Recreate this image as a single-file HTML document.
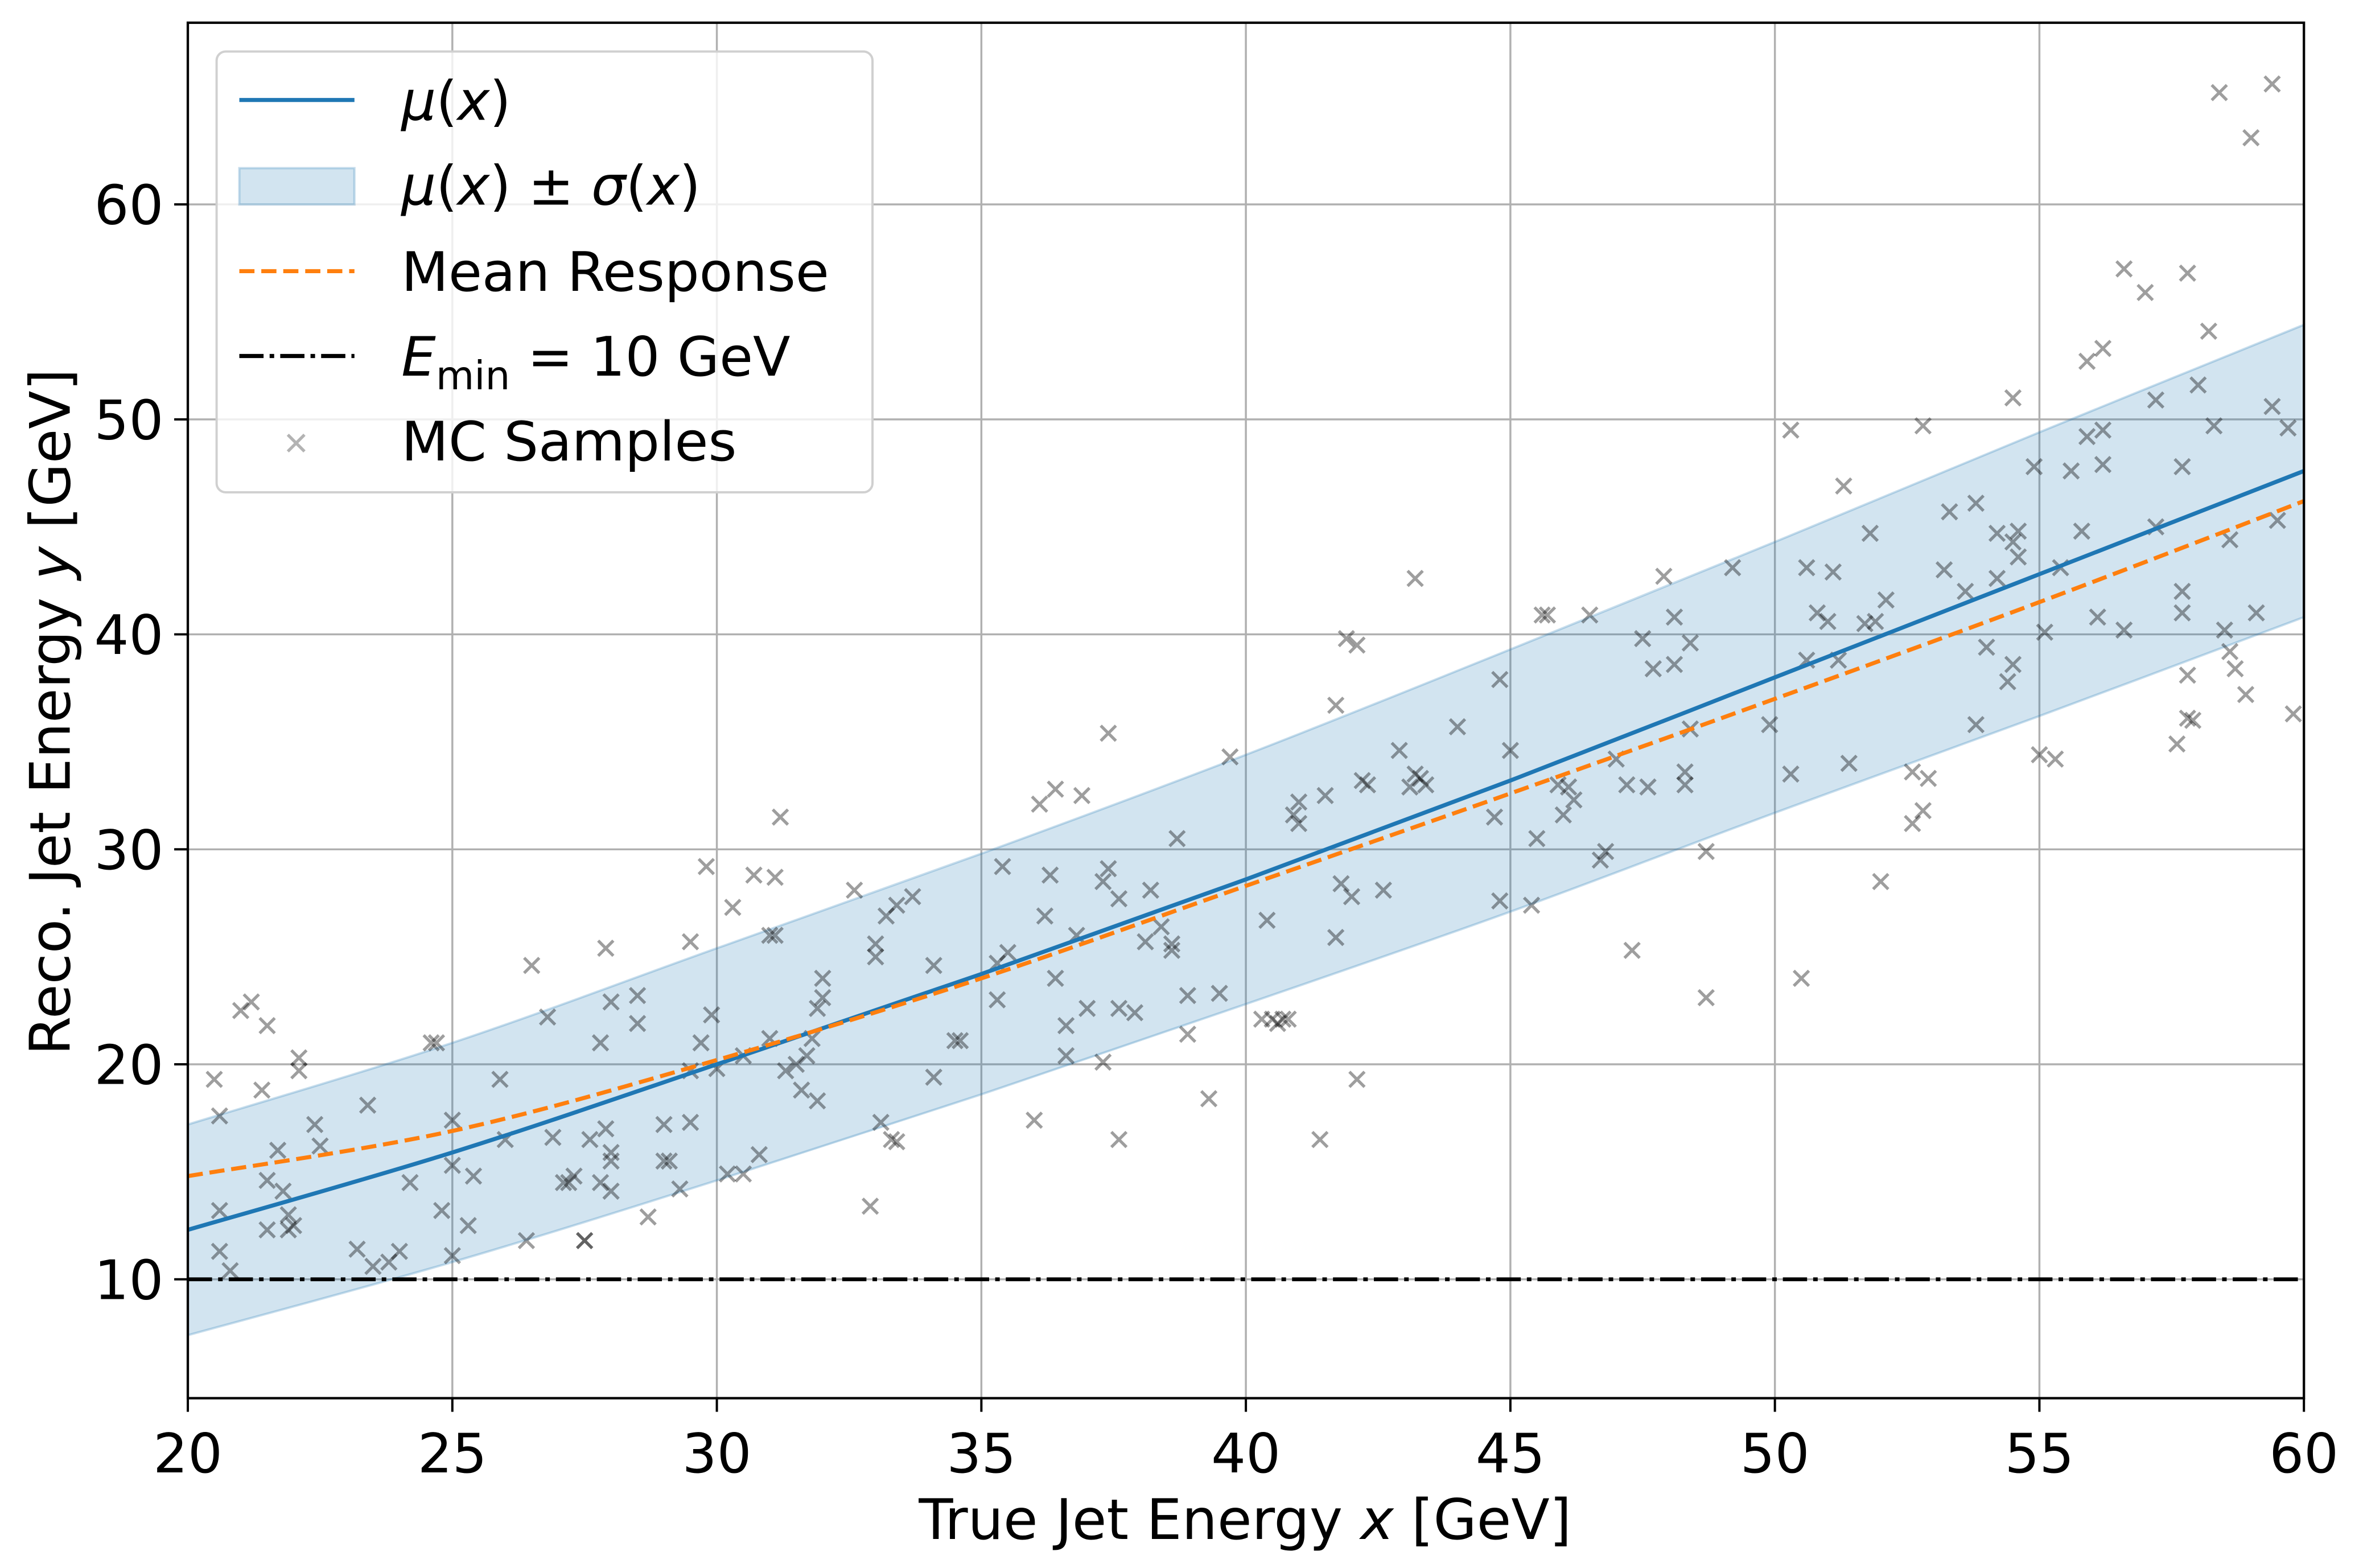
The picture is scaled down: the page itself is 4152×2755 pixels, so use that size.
<!DOCTYPE html>
<html><head><meta charset="utf-8"><style>
html,body{margin:0;padding:0;background:#fff;}
svg{display:block;}
text{font-family:"DejaVu Sans","Liberation Sans",sans-serif;}
</style></head><body>
<svg id="chart" width="4152" height="2755" viewBox="0 0 1560 1035.1" preserveAspectRatio="none" xmlns="http://www.w3.org/2000/svg">
<rect x="0" y="0" width="1560" height="1036" fill="#fff"/>
<g id="grid"></g>
<g id="band"></g>
<g id="points"></g>
<g id="lines"></g>
<rect x="124" y="15" width="1397" height="908" fill="none" stroke="#000" stroke-width="1.6"/>
<g id="ticks"></g>
<text x="822" y="1016" font-size="37" text-anchor="middle">True Jet Energy <tspan font-style="italic">x</tspan> [GeV]</text>
<text transform="translate(46,470) rotate(-90)" font-size="37" text-anchor="middle">Reco. Jet Energy <tspan font-style="italic">y</tspan> [GeV]</text>
<g>
<rect x="143" y="34" width="433" height="291" rx="6" fill="#fff" fill-opacity="0.8" stroke="#d0d0d0" stroke-width="1.5"/>
<line x1="158" y1="66" x2="234" y2="66" stroke="#1f77b4" stroke-width="2.7"/>
<text x="265" y="79" font-size="36"><tspan font-style="italic">μ</tspan>(<tspan font-style="italic">x</tspan>)</text>
<rect x="158" y="111" width="76" height="24" fill="#1f77b4" fill-opacity="0.2" stroke="#1f77b4" stroke-opacity="0.25" stroke-width="1.5"/>
<text x="265" y="135" font-size="36"><tspan font-style="italic">μ</tspan>(<tspan font-style="italic">x</tspan>) ± <tspan font-style="italic">σ</tspan>(<tspan font-style="italic">x</tspan>)</text>
<line x1="158" y1="179" x2="234" y2="179" stroke="#ff7f0e" stroke-width="2.7" stroke-dasharray="10,4.5"/>
<text x="265" y="192" font-size="36">Mean Response</text>
<line x1="158" y1="235" x2="234" y2="235" stroke="#000" stroke-width="2.7" stroke-dasharray="16,4,3,4"/>
<text x="265" y="248" font-size="36"><tspan font-style="italic">E</tspan><tspan font-size="26" dy="9">min</tspan><tspan dy="-9"> = 10 GeV</tspan></text>
<path d="M190,287 L201,298 M190,298 L201,287" stroke="#808080" stroke-opacity="0.6" stroke-width="2"/>
<text x="265" y="304" font-size="36">MC Samples</text>
</g>
</svg>
<script>
const xTicks = [20,25,30,35,40,45,50,55,60];
const yTicks = [10,20,30,40,50,60];
const curveX = [20,25,30,35,40,45,50,55,60];
const muVals = [12.3,15.9,20.0,24.2,28.6,33.2,38.0,42.8,47.6];
const meanVals = [14.8,16.9,20.2,24.0,28.3,32.6,37.0,41.5,46.2];
const sigmaVals = [4.9,5.1,5.4,5.6,5.8,6.1,6.3,6.6,6.8];
const eMin = 10;
const sampleX = [20.5,20.6,20.6,20.6,20.8,21.0,21.2,21.4,21.5,21.5,21.5,21.7,21.8,21.9,21.9,22.0,22.1,22.1,22.4,22.5,23.2,23.4,23.5,23.8,24.0,24.2,24.6,24.7,24.8,25.0,25.0,25.0,25.3,25.4,25.9,26.0,26.4,26.5,26.8,26.9,27.1,27.2,27.3,27.5,27.5,27.6,27.8,27.8,27.9,28.0,28.0,28.0,27.9,28.0,28.5,28.5,28.7,29.0,29.0,29.1,29.3,29.5,29.5,29.5,29.7,29.8,29.9,30.0,30.2,30.3,30.5,30.5,30.7,30.8,31.0,31.1,31.0,31.1,31.2,31.3,31.5,31.6,31.7,31.8,31.9,31.9,32.0,32.0,32.6,32.9,33.0,33.0,33.1,33.2,33.3,33.4,33.4,33.7,34.1,34.1,34.5,34.6,35.4,35.3,35.3,35.5,36.0,36.1,36.2,36.3,36.4,36.4,36.6,36.6,36.8,36.9,37.0,37.3,37.3,37.4,37.4,37.6,37.6,37.6,37.9,38.1,38.2,38.4,38.6,38.6,38.7,38.9,38.9,39.3,39.5,39.7,40.3,40.4,40.5,40.6,40.7,40.8,40.9,41.0,41.0,41.4,41.5,41.7,41.7,41.8,41.9,42.1,42.0,42.1,42.2,42.3,42.6,42.9,43.1,43.2,43.2,43.3,43.4,44.0,44.7,44.8,44.8,45.0,45.4,45.5,45.6,45.7,45.9,46.0,46.1,46.2,46.5,46.7,46.8,47.0,47.2,47.3,47.5,47.6,47.7,47.9,48.1,48.1,48.3,48.3,48.4,48.4,48.7,48.7,49.2,49.9,50.3,50.3,50.5,50.6,50.6,50.8,51.0,51.1,51.2,51.3,51.4,51.7,51.8,51.9,52.0,52.1,52.6,52.6,52.8,52.8,52.9,53.2,53.3,53.6,53.8,53.8,54.0,54.2,54.2,54.4,54.5,54.5,54.5,54.6,54.6,55.0,54.9,55.1,55.3,55.4,55.6,55.8,55.9,55.9,56.1,56.2,56.2,56.2,56.6,56.6,57.0,57.2,57.2,57.6,57.7,57.7,57.7,57.8,57.8,57.8,58.0,57.9,58.2,58.3,58.4,58.5,58.6,58.6,58.7,58.9,59.0,59.1,59.4,59.4,59.5,59.7,59.8];
const sampleY = [19.3,17.6,13.2,11.3,10.4,22.5,22.9,18.8,14.6,21.8,12.3,16.0,14.1,13.0,12.3,12.5,20.3,19.7,17.2,16.2,11.4,18.1,10.6,10.8,11.3,14.5,21.0,21.0,13.2,15.3,17.4,11.1,12.5,14.8,19.3,16.5,11.8,24.6,22.2,16.6,14.5,14.5,14.8,11.8,11.8,16.5,21.0,14.5,25.4,22.9,15.9,15.5,17.0,14.1,23.2,21.9,12.9,17.2,15.5,15.5,14.2,25.7,17.3,19.7,21.0,29.2,22.3,19.8,14.9,27.3,14.9,20.4,28.8,15.8,26.0,26.0,21.2,28.7,31.5,19.7,20.0,18.8,20.4,21.2,18.3,22.6,23.1,24.0,28.1,13.4,25.0,25.6,17.3,26.9,16.5,16.4,27.4,27.8,19.4,24.6,21.1,21.1,29.2,23.0,24.7,25.2,17.4,32.1,26.9,28.8,24.0,32.8,21.8,20.4,26.0,32.5,22.6,20.1,28.5,29.1,35.4,16.5,27.7,22.6,22.4,25.7,28.1,26.4,25.3,25.6,30.5,23.2,21.4,18.4,23.3,34.3,22.1,26.7,22.1,21.9,22.1,22.1,31.6,32.2,31.2,16.5,32.5,36.7,25.9,28.4,39.8,39.5,27.8,19.3,33.2,33.0,28.1,34.6,32.9,33.5,42.6,33.3,33.0,35.7,31.5,27.6,37.9,34.6,27.4,30.5,40.9,40.9,33.0,31.6,32.9,32.3,40.9,29.5,29.9,34.2,33.0,25.3,39.8,32.9,38.4,42.7,38.6,40.8,33.0,33.6,39.6,35.6,29.9,23.1,43.1,35.8,33.5,49.5,24.0,43.1,38.8,41.0,40.6,42.9,38.8,46.9,34.0,40.5,44.7,40.6,28.5,41.6,33.6,31.2,49.7,31.8,33.3,43.0,45.7,42.0,35.8,46.1,39.4,44.7,42.6,37.8,44.3,38.6,51.0,43.6,44.8,34.4,47.8,40.1,34.2,43.1,47.6,44.8,52.7,49.2,40.8,49.5,47.9,53.3,40.2,57.0,55.9,50.9,45.0,34.9,47.8,41.0,42.0,38.1,56.8,36.1,51.6,36.0,54.1,49.7,65.2,40.2,39.2,44.4,38.4,37.2,63.1,41.0,50.6,65.6,45.3,49.6,36.3];

const NS='http://www.w3.org/2000/svg';
const X0=124,X1=1521,Y0=923,Y1=15,XMIN=20,XMAX=60,YMIN=4.47,YMAX=68.45;
function sx(v){return X0+(v-XMIN)/(XMAX-XMIN)*(X1-X0);}
function sy(v){return Y0-(v-YMIN)/(YMAX-YMIN)*(Y0-Y1);}
function mk(tag,attrs,parent){const e=document.createElementNS(NS,tag);for(const k in attrs)e.setAttribute(k,attrs[k]);parent.appendChild(e);return e;}
function smooth(xs,ys){
  const p=xs.map((x,i)=>[sx(x),sy(ys[i])]);
  let d='M'+p[0][0]+','+p[0][1];
  for(let i=0;i<p.length-1;i++){
    const a=p[Math.max(0,i-1)],b=p[i],c=p[i+1],e=p[Math.min(p.length-1,i+2)];
    const c1=[b[0]+(c[0]-a[0])/6,b[1]+(c[1]-a[1])/6],c2=[c[0]-(e[0]-b[0])/6,c[1]-(e[1]-b[1])/6];
    d+=' C'+c1[0]+','+c1[1]+' '+c2[0]+','+c2[1]+' '+c[0]+','+c[1];
  }
  return d;
}
const grid=document.getElementById('grid'),ticks=document.getElementById('ticks');
xTicks.forEach(t=>{
  const g=mk('line',{x1:sx(t),x2:sx(t),y1:Y1,y2:Y0,stroke:'#b0b0b0','stroke-width':1.3},grid);
  
  
  const tk=mk('line',{x1:sx(t),x2:sx(t),y1:Y0,y2:Y0+9,stroke:'#000','stroke-width':1.5},ticks);
  
  
  const tl=mk('text',{x:sx(t),y:Y0+49,'font-size':36,'text-anchor':'middle'},ticks);
  tl.textContent=t;
  
  
});
yTicks.forEach(t=>{
  const g=mk('line',{x1:X0,x2:X1,y1:sy(t),y2:sy(t),stroke:'#b0b0b0','stroke-width':1.3},grid);
  
  
  const tk=mk('line',{x1:X0-9,x2:X0,y1:sy(t),y2:sy(t),stroke:'#000','stroke-width':1.5},ticks);
  
  
  const tl=mk('text',{x:X0-16,y:sy(t)+13,'font-size':36,'text-anchor':'end'},ticks);
  tl.textContent=t;
  
  
});
const upper=muVals.map((m,i)=>m+sigmaVals[i]),lower=muVals.map((m,i)=>m-sigmaVals[i]);
const up=smooth(curveX,upper);
const loRev=smooth(curveX.slice().reverse(),lower.slice().reverse());
const bandPath=mk('path',{d:up+' L'+loRev.slice(1)+' Z',fill:'#1f77b4','fill-opacity':0.2,stroke:'#1f77b4','stroke-opacity':0.25,'stroke-width':1.5},document.getElementById('band'));


const pts=document.getElementById('points');
sampleX.forEach((x,i)=>{
  const cx=sx(x),cy=sy(sampleY[i]),r=5;
  const p=mk('path',{d:`M${cx-r},${cy-r} L${cx+r},${cy+r} M${cx-r},${cy+r} L${cx+r},${cy-r}`,stroke:'#000','stroke-opacity':0.38,'stroke-width':2},pts);
  
  
});
const lines=document.getElementById('lines');
const em=mk('line',{x1:X0,x2:X1,y1:sy(eMin),y2:sy(eMin),stroke:'#000','stroke-width':2.5,'stroke-dasharray':'16,4,3,4'},lines);


const mu=mk('path',{d:smooth(curveX,muVals),fill:'none',stroke:'#1f77b4','stroke-width':2.7},lines);


const mr=mk('path',{d:smooth(curveX,meanVals),fill:'none',stroke:'#ff7f0e','stroke-width':2.7,'stroke-dasharray':'10,4.5'},lines);


</script>
</body></html>
